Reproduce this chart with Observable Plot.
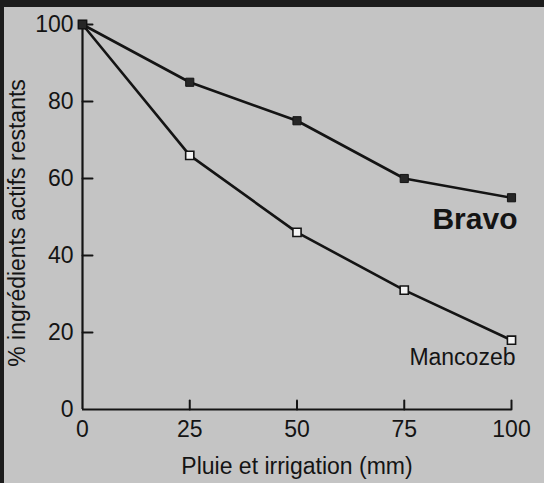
<!DOCTYPE html>
<html><head><meta charset="utf-8">
<script src="https://cdn.jsdelivr.net/npm/d3@7"></script>
<script src="https://cdn.jsdelivr.net/npm/@observablehq/plot@0.6"></script>
<style>
body{margin:0;background:#c4c4c4;}
#wrap{position:relative;width:544px;height:483px;overflow:hidden;background:#c4c4c4;}
#wrap svg{position:absolute;left:0;top:0;}
.edge{position:absolute;background:#1c1c1c;z-index:2;}
</style></head>
<body>
<div id="wrap"><div class="edge" style="left:0;top:0;width:544px;height:7px"></div><div class="edge" style="left:0;top:0;width:4px;height:483px"></div></div>
<script>
const rain = [0, 25, 50, 75, 100];
const bravo = [100, 85, 75, 60, 55];
const mancozeb = [100, 66, 46, 31, 18];
const xTicks = [0, 25, 50, 75, 100];
const yTicks = [0, 20, 40, 60, 80, 100];
const xTitle = "Pluie et irrigation (mm)";
const yTitle = "% ingrédients actifs restants";

const bravoRows = rain.map((x, i) => ({x, y: bravo[i], series: "Bravo"}));
const mancoRows = rain.map((x, i) => ({x, y: mancozeb[i], series: "Mancozeb"}));
const ink = "#141414";
const tickShape = {draw(ctx, l){ ctx.moveTo(0, 0); ctx.lineTo(0, -l); }};

const chart = Plot.plot({
  width: 544, height: 483,
  marginLeft: 82, marginRight: 33, marginTop: 24, marginBottom: 74,
  x: {domain: [0, 100]},
  y: {domain: [0, 100]},
  style: {background: "transparent", fontFamily: "'Liberation Sans', Arial, Helvetica, sans-serif", color: ink},
  marks: [
    Plot.axisX({ticks: xTicks, tickSize: 0, tickPadding: 11, fontSize: 23, label: null}),
    Plot.axisY({ticks: yTicks, tickSize: 0, tickPadding: 9, fontSize: 23, label: null}),
    Plot.vector(yTicks.filter(d => d > 0), {x: 0, y: d => d, length: 10, rotate: 90, anchor: "start", shape: tickShape, stroke: ink, strokeWidth: 2}),
    Plot.vector(xTicks.filter(d => d > 0), {x: d => d, y: 0, length: 9, rotate: 0, anchor: "start", shape: tickShape, stroke: ink, strokeWidth: 2}),
    Plot.ruleX([0], {stroke: ink, strokeWidth: 2.2}),
    Plot.ruleY([0], {stroke: ink, strokeWidth: 2.2}),
    Plot.text([xTitle], {frameAnchor: "bottom", textAnchor: "middle", dy: 57, lineAnchor: "middle", fontSize: 23, fill: ink}),
    Plot.text([yTitle], {frameAnchor: "left", textAnchor: "middle", dx: -65, dy: 6, rotate: -90, lineAnchor: "middle", fontSize: 23, fill: ink}),
    Plot.line(bravoRows, {x: "x", y: "y", stroke: ink, strokeWidth: 2.6}),
    Plot.line(mancoRows, {x: "x", y: "y", stroke: ink, strokeWidth: 2.6}),
    Plot.dot(mancoRows, {x: "x", y: "y", symbol: "square", r: 4.6, fill: "#f4f4f4", stroke: ink, strokeWidth: 1.6}),
    Plot.dot(bravoRows, {x: "x", y: "y", symbol: "square", r: 4.6, fill: "#262626", stroke: ink, strokeWidth: 1}),
    Plot.text(bravoRows, Plot.selectLast({x: "x", y: "y", text: "series", textAnchor: "end", lineAnchor: "middle", dx: 6, dy: 22, fontSize: 30, fontWeight: "bold", fill: ink})),
    Plot.text(mancoRows, Plot.selectLast({x: "x", y: "y", text: "series", textAnchor: "end", lineAnchor: "middle", dx: 4, dy: 17, fontSize: 23, fill: ink}))
  ]
});
document.getElementById("wrap").appendChild(chart);
</script>
</body></html>
